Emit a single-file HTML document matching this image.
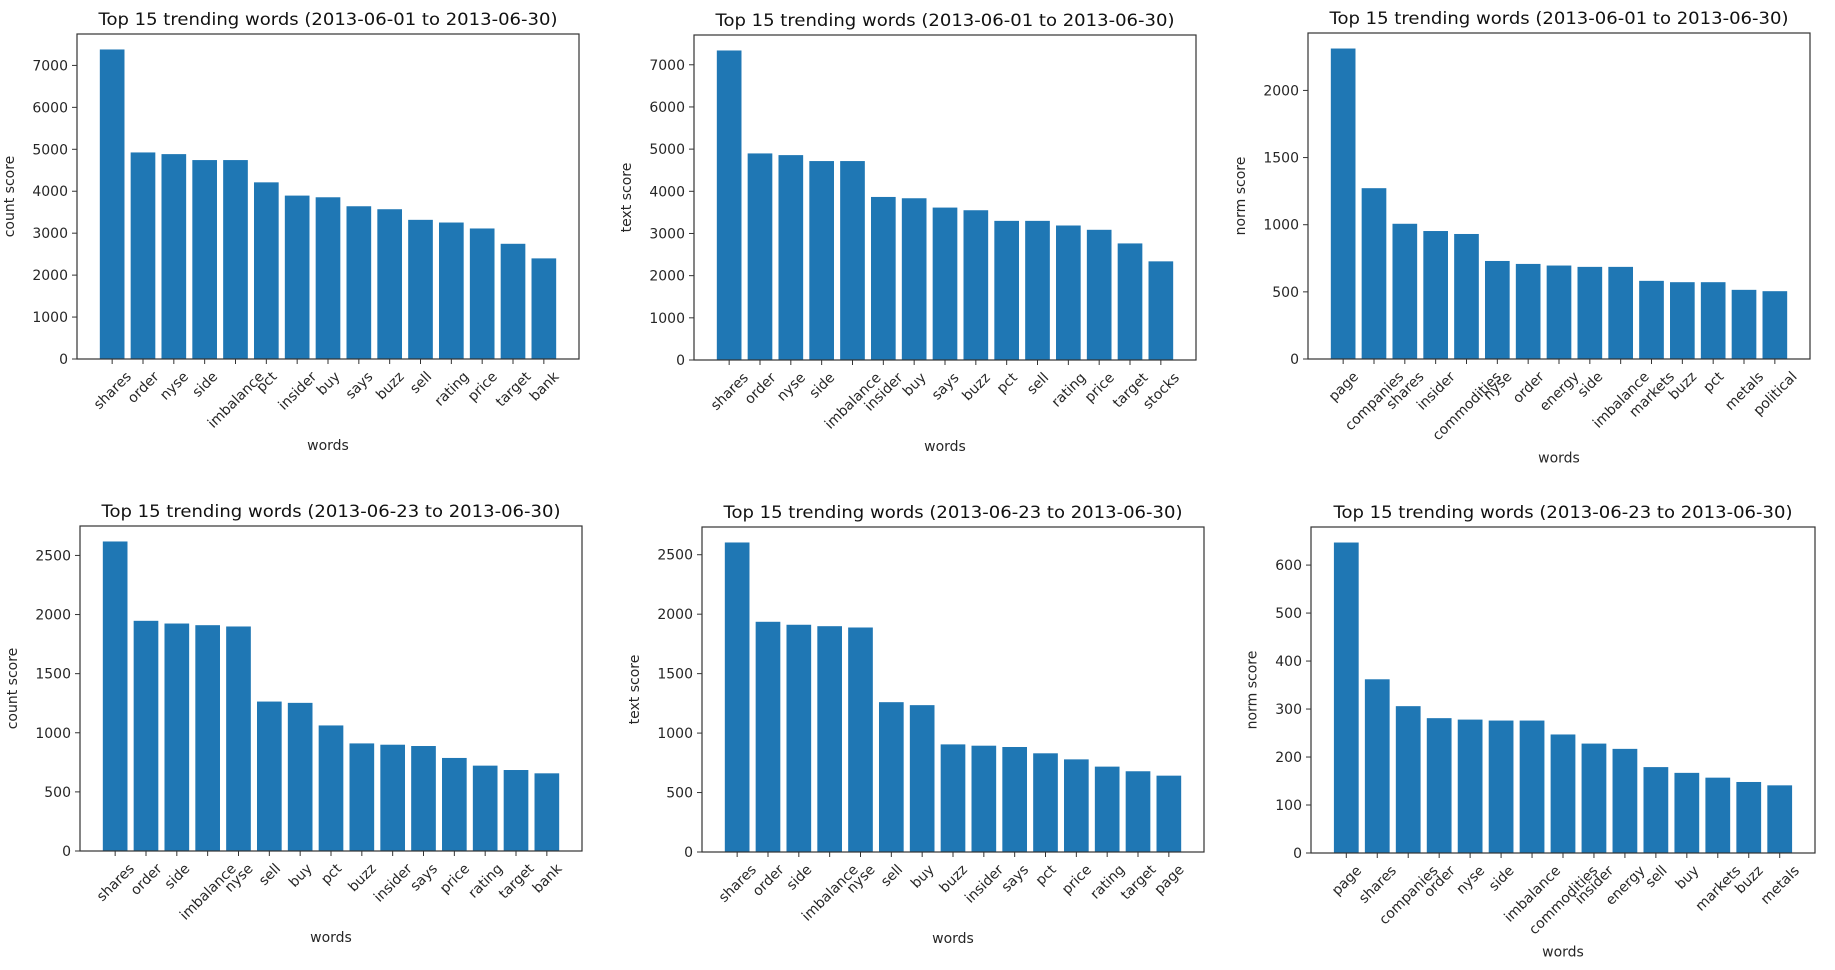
<!DOCTYPE html>
<html><head><meta charset="utf-8"><style>
html,body{margin:0;padding:0;background:#fff;}
svg{display:block;font-family:"DejaVu Sans","Liberation Sans",sans-serif;}
</style></head><body>
<svg id="fig" width="1835" height="970" viewBox="0 0 1835 970" xmlns="http://www.w3.org/2000/svg"></svg>
<script>
// ---- data ----
const title1 = "Top 15 trending words (2013-06-01 to 2013-06-30)";
const title2 = "Top 15 trending words (2013-06-23 to 2013-06-30)";

const p1Words = ["shares","order","nyse","side","imbalance","pct","insider","buy","says","buzz","sell","rating","price","target","bank"];
const p1Values = [7380,4925,4885,4743,4743,4212,3896,3856,3642,3571,3318,3254,3112,2747,2399];
const p1Ticks = [0,1000,2000,3000,4000,5000,6000,7000];

const p2Words = ["shares","order","nyse","side","imbalance","insider","buy","says","buzz","pct","sell","rating","price","target","stocks"];
const p2Values = [7339,4898,4858,4717,4717,3866,3835,3614,3551,3299,3299,3189,3087,2764,2339];
const p2Ticks = [0,1000,2000,3000,4000,5000,6000,7000];

const p3Words = ["page","companies","shares","insider","commodities","nyse","order","energy","side","imbalance","markets","buzz","pct","metals","political"];
const p3Values = [2312,1272,1007,953,931,730,708,696,686,686,582,572,572,515,505];
const p3Ticks = [0,500,1000,1500,2000];

const p4Words = ["shares","order","side","imbalance","nyse","sell","buy","pct","buzz","insider","says","price","rating","target","bank"];
const p4Values = [2618,1947,1924,1910,1899,1264,1253,1062,910,899,888,787,722,685,657];
const p4Ticks = [0,500,1000,1500,2000,2500];

const p5Words = ["shares","order","side","imbalance","nyse","sell","buy","buzz","insider","says","pct","price","rating","target","page"];
const p5Values = [2603,1936,1911,1899,1888,1260,1235,905,894,883,830,779,718,679,642];
const p5Ticks = [0,500,1000,1500,2000,2500];

const p6Words = ["page","shares","companies","order","nyse","side","imbalance","commodities","insider","energy","sell","buy","markets","buzz","metals"];
const p6Values = [647,362,306,281,278,276,276,247,228,217,179,167,157,148,141];
const p6Ticks = [0,100,200,300,400,500,600];

const NS = "http://www.w3.org/2000/svg";
const svg = document.getElementById('fig');
function mk(tag, attrs, parent){
  const e = document.createElementNS(NS, tag);
  for (const k in attrs) e.setAttribute(k, attrs[k]);
  (parent||svg).appendChild(e);
  return e;
}

function panel(id, box, title, ylabel, words, values, ticks){
  const g = mk('g', {});
  
  
  const L = box[0], R = box[1], T = box[2], B = box[3];
  const ymax = Math.max(...values) * 1.05;
  const n = words.length;
  const xmin = -0.4 - 0.05 * (n - 0.2), xmax = (n - 1) + 0.4 + 0.05 * (n - 0.2);
  const xs = v => L + (v - xmin) / (xmax - xmin) * (R - L);
  const ys = v => B - v / ymax * (B - T);

  // bars
  values.forEach((v, i) => {
    const r = mk('rect', {x: xs(i - 0.4), y: ys(v), width: xs(i + 0.4) - xs(i - 0.4), height: B - ys(v), fill: '#1f77b4'}, g);
    
    
  });

  // frame
  const fr = mk('rect', {x: L, y: T, width: R - L, height: B - T, fill: 'none', stroke: '#333', 'stroke-width': 1.2}, g);
  
  

  // y ticks
  let maxW = 0;
  ticks.forEach(t => {
    const y = ys(t);
    mk('line', {x1: L - 5, x2: L, y1: y, y2: y, stroke: '#333', 'stroke-width': 1}, g);
    const tx = mk('text', {x: L - 9, y: y + 5, 'text-anchor': 'end', 'font-size': 14, fill: '#262626'}, g);
    tx.textContent = String(t);
    
    
    maxW = Math.max(maxW, String(t).length);
  });

  // x ticks
  let maxBottom = B;
  words.forEach((w, i) => {
    const x = xs(i);
    mk('line', {x1: x, x2: x, y1: B, y2: B + 5, stroke: '#333', 'stroke-width': 1}, g);
    const tx = mk('text', {'font-size': 14, fill: '#262626', 'text-anchor': 'middle'}, g);
    tx.textContent = w;
    
    
    const len = tx.getComputedTextLength();
    const side = (len + 11) * Math.SQRT1_2;
    const cx = x, cy = B + 11 + side / 2;
    tx.setAttribute('x', cx);
    tx.setAttribute('y', cy + 5);
    tx.setAttribute('transform', `rotate(-45 ${cx} ${cy})`);
    maxBottom = Math.max(maxBottom, B + 11 + side);
  });

  // title
  const tt = mk('text', {x: (L + R) / 2, y: T - 9, 'text-anchor': 'middle', 'font-size': 17, fill: '#111', textLength: 459, lengthAdjust: 'spacingAndGlyphs'}, g);
  tt.textContent = title;
  
  

  // x label
  const xl = mk('text', {x: (L + R) / 2, y: maxBottom + 21, 'text-anchor': 'middle', 'font-size': 14, fill: '#262626'}, g);
  xl.textContent = 'words';
  
  

  // y label
  const lx = L - (28 + 8.8 * maxW), ly = (T + B) / 2;
  const yl = mk('text', {x: lx, y: ly, 'text-anchor': 'middle', 'font-size': 14, fill: '#262626', transform: `rotate(-90 ${lx} ${ly})`}, g);
  yl.textContent = ylabel;
  
  
}

panel('panel-count-month', [77, 579, 34, 359], title1, 'count score', p1Words, p1Values, p1Ticks);
panel('panel-text-month', [694, 1196, 35, 360], title1, 'text score', p2Words, p2Values, p2Ticks);
panel('panel-norm-month', [1308, 1810, 33, 359], title1, 'norm score', p3Words, p3Values, p3Ticks);
panel('panel-count-week', [80, 582, 526, 851], title2, 'count score', p4Words, p4Values, p4Ticks);
panel('panel-text-week', [702, 1204, 527, 852], title2, 'text score', p5Words, p5Values, p5Ticks);
panel('panel-norm-week', [1311, 1815, 527, 853], title2, 'norm score', p6Words, p6Values, p6Ticks);
</script>
</body></html>
